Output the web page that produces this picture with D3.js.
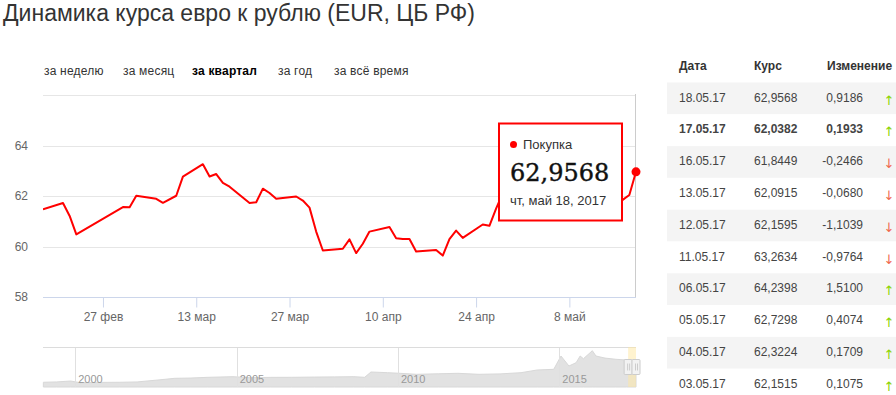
<!DOCTYPE html>
<html>
<head>
<meta charset="utf-8">
<script src="https://cdn.jsdelivr.net/npm/d3@7"></script>
<style>
  body { margin: 0; background: #fff; }
  svg { display: block; font-family: "Liberation Sans", Arial, sans-serif; }
</style>
</head>
<body>
<div id="chart"></div>
<script>
// ДАННЫЕ

const title = "Динамика курса евро к рублю (EUR, ЦБ РФ)";
const tabLabels = ["за неделю", "за месяц", "за квартал", "за год", "за всё время"];
const activeTab = "за квартал";

// курс ЦБ, последние три месяца
const lineDates = [
  "2017-02-18","2017-02-21","2017-02-22","2017-02-23","2017-03-02","2017-03-03","2017-03-04",
  "2017-03-07","2017-03-08","2017-03-10","2017-03-11","2017-03-14","2017-03-15","2017-03-16",
  "2017-03-17","2017-03-18","2017-03-21","2017-03-22","2017-03-23","2017-03-24","2017-03-25",
  "2017-03-28","2017-03-29","2017-03-30","2017-03-31","2017-04-01","2017-04-04","2017-04-05",
  "2017-04-06","2017-04-07","2017-04-08","2017-04-11","2017-04-12","2017-04-13","2017-04-14",
  "2017-04-15","2017-04-18","2017-04-19","2017-04-20","2017-04-21","2017-04-22","2017-04-25",
  "2017-04-26","2017-04-27","2017-04-28","2017-04-29","2017-05-03","2017-05-04","2017-05-05",
  "2017-05-06","2017-05-11","2017-05-12","2017-05-13","2017-05-16","2017-05-17","2017-05-18"
];
const lineValues = [
  61.47, 61.72, 61.21, 60.48, 61.56, 61.55, 62.01,
  61.89, 61.73, 62.01, 62.77, 63.26, 62.77, 62.87,
  62.52, 62.37, 61.72, 61.75, 62.29, 62.12, 61.89,
  61.98, 61.82, 61.54, 60.59, 59.84, 59.91, 60.28,
  59.74, 60.11, 60.59, 60.77, 60.33, 60.30, 60.30,
  59.80, 59.86, 59.64, 60.29, 60.63, 60.34, 60.87,
  60.82, 61.50, 62.10, 62.00, 62.1515, 62.3224, 62.7298,
  64.2398, 63.2634, 62.1595, 62.0915, 61.8449, 62.0382, 62.9568
];

const xTickDates = ["2017-02-27","2017-03-13","2017-03-27","2017-04-10","2017-04-24","2017-05-08"];
const yTicks = [58, 60, 62, 64, 66];

// навигатор: вся история
const navDates = [
  "1999-01-05","1999-06-01","1999-11-10","2000-02-25","2000-09-01","2001-05-20","2001-12-01",
  "2002-07-25","2003-02-01","2003-08-01","2004-02-10","2004-11-20","2005-05-30","2006-01-15",
  "2006-09-15","2007-06-01","2008-01-15","2008-08-20","2008-12-20","2009-03-01","2009-09-05",
  "2010-01-25","2010-07-30","2011-04-01","2011-11-10","2012-07-05","2013-03-01","2013-10-25",
  "2014-04-25","2014-10-30","2015-01-20","2015-04-20","2015-07-10","2015-08-25","2015-10-01",
  "2016-01-10","2016-02-20","2016-06-01","2016-10-01","2017-02-01","2017-05-18"
];
const navValues = [
  24.8, 25.5, 27.4, 23.9, 24.5, 24.8, 25.5,
  29.5, 33.0, 33.6, 35.1, 36.4, 34.3, 35.0,
  35.1, 35.6, 36.0, 36.4, 35.1, 46.1, 44.7,
  43.4, 41.3, 42.4, 43.4, 41.3, 42.2, 44.7,
  50.3, 51.7, 79.3, 58.6, 65.4, 79.3, 73.7,
  90.3, 79.3, 75.0, 72.5, 71.0, 69.6
];
const navTickYears = ["2000", "2005", "2010", "2015"];

// таблица
const tableDates = ["18.05.17","17.05.17","16.05.17","13.05.17","12.05.17","11.05.17","06.05.17","05.05.17","04.05.17","03.05.17"];
const tableRates = [62.9568, 62.0382, 61.8449, 62.0915, 62.1595, 63.2634, 64.2398, 62.7298, 62.3224, 62.1515];
const tableChanges = [0.9186, 0.1933, -0.2466, -0.0680, -1.1039, -0.9764, 1.5100, 0.4074, 0.1709, 0.1075];
const tableHeader = ["Дата", "Курс", "Изменение"];
const boldRow = "17.05.17";

// ЛОКАЛЬ

var ru = d3.timeFormatLocale({
  dateTime: "%A, %e %B %Y г. %X", date: "%d.%m.%Y", time: "%H:%M:%S",
  periods: ["AM", "PM"],
  days: ["воскресенье","понедельник","вторник","среда","четверг","пятница","суббота"],
  shortDays: ["вс","пн","вт","ср","чт","пт","сб"],
  months: ["январь","февраль","март","апрель","май","июнь","июль","август","сентябрь","октябрь","ноябрь","декабрь"],
  shortMonths: ["янв","фев","мар","апр","май","июн","июл","авг","сен","окт","ноя","дек"]
});
var num = d3.formatLocale({decimal: ",", thousands: " ", grouping: [3], currency: ["", " руб."], minus: "-"});
var f4 = num.format(".4f");

var parse = d3.timeParse("%Y-%m-%d");

var width = 896;
var height = 395;

var svg = d3.select("#chart").append("svg")
    .attr("width", width)
    .attr("height", height);

// ЗАГОЛОВОК И ВКЛАДКИ

svg.append("text")
  .attr("x", 3)
  .attr("y", 21)
  .attr("font-size", "23px")
  .attr("fill", "#333")
  .text(title);

var tabX = [44, 123, 192, 278, 334];
svg.append("g").selectAll("text")
  .data(tabLabels).enter()
  .append("text")
    .attr("x", function(d, i) { return tabX[i]; })
    .attr("y", 75)
    .attr("font-size", "12px")
    .attr("letter-spacing", "0.2px")
    .attr("font-weight", function(d) { return d == activeTab ? "bold" : "normal"; })
    .attr("fill", function(d) { return d == activeTab ? "#000" : "#333"; })
    .text(function(d) { return d; });

// ОСНОВНОЙ ГРАФИК

var plot = {left: 43, right: 636, top: 95, bottom: 297};

var points = lineDates.map(function(d, i) { return {date: parse(d), value: lineValues[i]}; });

var x = d3.scaleTime()
    .domain([parse("2017-02-18"), parse("2017-05-18")])
    .range([plot.left, plot.right]);

var y = d3.scaleLinear()
    .domain([58, 66])
    .range([plot.bottom, plot.top]);

var grid = svg.append("g").attr("shape-rendering", "crispEdges");
grid.selectAll("line")
  .data(yTicks.filter(function(d) { return d != 58; })).enter()
  .append("line")
    .attr("x1", plot.left).attr("x2", plot.right)
    .attr("y1", function(d) { return Math.round(y(d)) + 0.5; })
    .attr("y2", function(d) { return Math.round(y(d)) + 0.5; })
    .attr("stroke", "#e6e6e6");

// y подписи (последнюю не показываем, как в highstock)
svg.append("g").selectAll("text")
  .data(yTicks.slice(0, -1)).enter()
  .append("text")
    .attr("x", 28)
    .attr("y", function(d) { return y(d); })
    .attr("dy", "0.35em")
    .attr("text-anchor", "end")
    .attr("font-size", "12px")
    .attr("fill", "#666")
    .text(function(d) { return d; });

var xAxis = d3.axisBottom(x)
    .tickValues(xTickDates.map(parse))
    .tickFormat(ru.format("%-d %b"))
    .tickSize(10)
    .tickPadding(5);

var gx = svg.append("g")
    .attr("transform", "translate(0," + (plot.bottom + 0.5) + ")")
    .call(xAxis);
gx.select(".domain").attr("stroke", "#ccd6eb").attr("d", "M" + plot.left + ",0H" + plot.right);
gx.selectAll(".tick line").attr("stroke", "#ccd6eb");
gx.selectAll(".tick text")
    .attr("font-family", "Liberation Sans, Arial, sans-serif")
    .attr("font-size", "12px")
    .attr("fill", "#666");

// перекрестие на последней точке
var last = points[points.length - 1];
svg.append("line")
  .attr("x1", Math.round(x(last.date)) - 0.5).attr("x2", Math.round(x(last.date)) - 0.5)
  .attr("y1", plot.top - 1).attr("y2", plot.bottom)
  .attr("stroke", "#cccccc");

svg.append("clipPath").attr("id", "clip")
  .append("rect")
    .attr("x", plot.left).attr("y", plot.top - 10)
    .attr("width", plot.right - plot.left + 6).attr("height", plot.bottom - plot.top + 10);

var line = d3.line()
    .x(function(d) { return x(d.date); })
    .y(function(d) { return y(d.value); });

svg.append("path")
  .datum(points)
  .attr("clip-path", "url(#clip)")
  .attr("fill", "none")
  .attr("stroke", "#ff0000")
  .attr("stroke-width", 2)
  .attr("stroke-linejoin", "round")
  .attr("d", line);

svg.append("circle")
  .attr("cx", x(last.date))
  .attr("cy", y(last.value))
  .attr("r", 4.5)
  .attr("fill", "#ff0000");

// ТУЛТИП

var tip = svg.append("g").attr("transform", "translate(499,123.5)");
tip.append("rect")
  .attr("width", 123).attr("height", 97)
  .attr("fill", "#fff")
  .attr("stroke", "#ff0000")
  .attr("stroke-width", 2);
tip.append("circle").attr("cx", 14.5).attr("cy", 21).attr("r", 3.5).attr("fill", "#ff0000");
tip.append("text")
  .attr("x", 24).attr("y", 25.5)
  .attr("font-size", "13px").attr("fill", "#333")
  .text("Покупка");
tip.append("text")
  .attr("x", 11).attr("y", 57.5)
  .attr("font-family", "DejaVu Serif, serif")
  .attr("font-size", "24px").attr("fill", "#111")
  .attr("stroke", "#111").attr("stroke-width", 0.4)
  .text(f4(last.value));
tip.append("text")
  .attr("x", 11).attr("y", 81)
  .attr("font-size", "13px").attr("fill", "#333")
  .text(ru.format("%a, %b %-d, %Y")(last.date));

// НАВИГАТОР

var nav = {left: 43, right: 636, top: 347, bottom: 387};
var navPts = navDates.map(function(d, i) { return {date: parse(d), value: navValues[i]}; });

var nx = d3.scaleTime()
    .domain([parse("1999-01-01"), parse("2017-05-18")])
    .range([nav.left, nav.right]);
var ny = d3.scaleLinear()
    .domain([15, 98])
    .range([nav.bottom, nav.top]);

var ng = svg.append("g");

ng.append("path")
  .datum(navPts)
  .attr("fill", "#e2e2e2")
  .attr("stroke", "#d8d8d8")
  .attr("d", d3.area()
      .x(function(d) { return nx(d.date); })
      .y0(nav.bottom)
      .y1(function(d) { return ny(d.value); }));

ng.selectAll(".vgrid")
  .data(navTickYears).enter()
  .append("line")
    .attr("class", "vgrid")
    .attr("shape-rendering", "crispEdges")
    .attr("x1", function(d) { return Math.round(nx(parse(d + "-01-01"))) + 0.5; })
    .attr("x2", function(d) { return Math.round(nx(parse(d + "-01-01"))) + 0.5; })
    .attr("y1", nav.top).attr("y2", nav.bottom)
    .attr("stroke", "#e0e0e0");

ng.selectAll(".ylabel")
  .data(navTickYears).enter()
  .append("text")
    .attr("class", "ylabel")
    .attr("x", function(d) { return nx(parse(d + "-01-01")) + 3; })
    .attr("y", 383)
    .attr("font-size", "11px")
    .attr("fill", "#999")
    .text(function(d) { return d; });

ng.append("line")
  .attr("shape-rendering", "crispEdges")
  .attr("x1", nav.left).attr("x2", nav.right)
  .attr("y1", nav.top + 0.5).attr("y2", nav.top + 0.5)
  .attr("stroke", "#dcdcdc");

// выбранный период
var selX0 = nx(parse("2017-02-18"));
ng.append("rect")
  .attr("x", selX0).attr("y", nav.top)
  .attr("width", nav.right - selX0).attr("height", nav.bottom - nav.top)
  .attr("fill", "rgba(255,232,160,0.5)");

var handles = ng.selectAll(".handle")
  .data([selX0 - 4, nav.right - 4]).enter()
  .append("g")
    .attr("class", "handle")
    .attr("transform", function(d) { return "translate(" + d + ",359.5)"; });
handles.append("rect")
  .attr("width", 8).attr("height", 15)
  .attr("rx", 1)
  .attr("fill", "#f2f2f2")
  .attr("stroke", "#cccccc");
handles.append("path")
  .attr("d", "M3.5,4V11M5.5,4V11")
  .attr("stroke", "#cccccc");

// ТАБЛИЦА

var tab = svg.append("g");
var colX = [679, 754, 863];
var rowTop = 82.5, rowH = 31.8;

tab.selectAll(".head")
  .data(tableHeader).enter()
  .append("text")
    .attr("class", "head")
    .attr("x", function(d, i) { return i == 2 ? 827 : colX[i]; })
    .attr("y", 70)
    .attr("font-size", "12px")
    .attr("font-weight", "bold")
    .attr("fill", "#333")
    .text(function(d) { return d; });

var rows = tab.selectAll(".row")
  .data(tableDates).enter()
  .append("g")
    .attr("class", "row")
    .attr("transform", function(d, i) { return "translate(0," + (rowTop + i * rowH) + ")"; })
    .attr("font-weight", function(d) { return d == boldRow ? "bold" : "normal"; });

rows.append("rect")
  .attr("x", 667).attr("width", width - 667).attr("height", rowH)
  .attr("fill", function(d, i) { return i % 2 == 0 ? "#f4f4f4" : "#fff"; });

rows.append("text")
  .attr("x", colX[0]).attr("y", 19)
  .attr("font-size", "12px").attr("fill", "#444")
  .text(function(d) { return d; });

rows.append("text")
  .attr("x", colX[1]).attr("y", 19)
  .attr("font-size", "12px").attr("fill", "#444")
  .text(function(d, i) { return f4(tableRates[i]); });

rows.append("text")
  .attr("x", colX[2]).attr("y", 19)
  .attr("text-anchor", "end")
  .attr("font-size", "12px").attr("fill", "#444")
  .text(function(d, i) { return f4(tableChanges[i]); });

rows.append("text")
  .attr("x", 889).attr("y", 22)
  .attr("text-anchor", "middle")
  .attr("font-family", "DejaVu Sans, sans-serif")
  .attr("font-size", "13px")
  .attr("font-weight", "normal")
  .attr("fill", function(d, i) { return tableChanges[i] > 0 ? "#8cd400" : "#f06a50"; })
  .text(function(d, i) { return tableChanges[i] > 0 ? "↑" : "↓"; });

</script>
</body>
</html>
